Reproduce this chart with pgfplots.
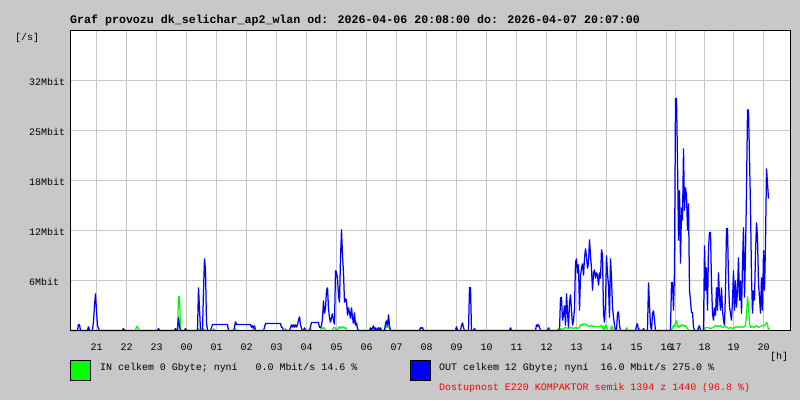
\documentclass[border=0pt]{standalone}
\usepackage{pgfplots}
\pgfplotsset{compat=1.18}
\usepackage{fontspec}
\setmainfont{Liberation Mono}
\setmonofont{Liberation Mono}
\definecolor{bg}{RGB}{200,200,200}
\definecolor{gridc}{RGB}{200,200,200}
\definecolor{inG}{RGB}{0,255,0}
\definecolor{outB}{RGB}{0,0,255}
\definecolor{redT}{RGB}{255,0,0}
\begin{document}
\begin{tikzpicture}[x=1bp,y=1bp]
\fill[bg] (0,0) rectangle (800,400);
\useasboundingbox (0,0) rectangle (800,400);
\begin{axis}[
  at={(70.5bp,69.5bp)}, anchor=south west,
  scale only axis, width=720bp, height=300bp,
  xmin=0, xmax=720, ymin=0, ymax=300,
  axis background/.style={fill=white},
  clip=false,
  xtick={26,56,86,116,146,176,206,236,266,296,326,356,386,416,446,476,506,536,566,596,605,634,663,693},
  xticklabels={21,22,23,00,01,02,03,04,05,06,07,08,09,10,11,12,13,14,15,16,17,18,19,20},
  ytick={50,100,150,200,250},
  yticklabels={6Mbit,12Mbit,18Mbit,25Mbit,32Mbit},
  grid=major,
  major grid style={gridc, line width=1bp},
  major tick length=0pt,
  tick label style={font=\fontsize{10}{12}\selectfont},
  xticklabel style={anchor=base, inner sep=0pt, yshift=-20.2bp},
  yticklabel style={anchor=base west, inner sep=0pt, xshift=-41.5bp, yshift=-4.5bp},
  axis line style={black, line width=1bp},
]
\addplot[draw=inG, line width=1.25bp, line join=bevel] coordinates {
(0,0) (65,0) (66,4) (67,4) (68,0) (107,0) (108,34) (109,34) (110,0) (127,0) (128,2) (129,0) (132,0) (133,2) (134,0)
(142,0) (143,2) (144,0) (164,0) (165,2) (166,0) (182,0) (183,2) (184,0) (214,0) (215,2) (216,0) (239,0) (240,2) (241,0)
(250,0) (251,3) (252,2) (253,3) (254,2) (255,0) (262,0) (263,3) (264,3) (265,2) (266,0) (268,3) (269,4) (270,2) (271,3)
(272,4) (273,3) (274,2) (275,3) (276,0) (314,0) (315,3) (316,5) (317,3) (318,4) (319,2) (320,0)
(487,0) (488,2) (490,2) (491,0) (493,2) (495,3) (498,2) (500,3) (503,2) (505,3) (507,2) (509,3) (510,6) (512,5) (513,7)
(515,6) (517,5) (519,4) (521,5) (523,4) (525,4) (527,4) (529,4) (531,5) (532,4) (533,0) (534,2) (535,6) (536,3) (537,0)
(540,0) (541,5) (542,2) (543,0) (555,0) (556,3) (557,0) (568,0) (569,2) (570,0)
(601,0) (602,3) (603,5) (604,4) (605,8) (606,10) (607,4) (608,3) (609,5) (610,4) (611,6) (612,5) (613,5) (614,4) (615,5)
(616,3) (617,2) (618,0)
(634,0) (635,3) (637,3) (640,2) (643,3) (645,5) (647,4) (650,5) (652,3) (655,4) (658,2) (660,3) (662,2) (664,3) (666,4)
(668,3) (670,4) (672,3) (674,4) (675,5) (676,15) (677,34) (678,25) (679,7) (680,3) (682,4) (684,3) (686,5) (688,3) (690,4)
(692,5) (694,5) (695,6) (696,8) (697,6) (698,0)
};
\addplot[draw=outB, line width=1.25bp, line join=bevel] coordinates {
(0,0) (7,0) (8,6) (9,6) (10,0) (17,0) (18,4) (19,0) (22,0) (23,9) (24,25) (25,37) (26,20) (27,5) (28,2) (29,0)
(52,0) (53,2) (54,0) (87,0) (88,2) (89,0) (104,0) (105,2) (106,0) (107,0) (108,13) (109,4) (110,0) (114,0) (115,2) (116,0)
(127,0) (128,43) (129,22) (130,0) (132,0) (133,40) (134,72) (135,60) (136,8) (137,0)
(140,0) (141,3) (142,6) (157,6) (158,0) (163,0) (164,3) (165,9) (166,6) (180,6) (181,3) (182,5) (183,2) (184,5) (185,0)
(193,0) (194,3) (195,7) (210,7) (211,3) (212,3) (213,0)
(219,0) (220,3) (221,6) (222,3) (223,6) (224,3) (225,6) (226,3) (227,6) (228,10) (229,14) (230,6) (231,2) (232,0) (233,0) (234,3) (235,0)
(239,0) (240,4) (241,8) (248,8) (249,3) (250,3) (251,5) (252,12) (253,30) (254,17) (255,22) (256,40) (257,43) (258,22)
(259,13) (260,8) (261,13) (262,17) (263,10) (264,6) (265,60) (266,58) (267,52) (268,35) (269,28) (270,72) (271,101)
(272,75) (273,58) (274,28) (275,32) (276,30) (277,15) (278,23) (279,18) (280,12) (281,23) (282,13) (283,7) (284,18)
(285,5) (286,8) (287,2) (288,0)
(299,0) (300,3) (301,0) (303,5) (304,0) (305,3) (306,0) (308,3) (309,0) (310,3) (311,0) (314,0) (315,7) (316,10) (317,4)
(318,16) (319,5) (320,0) (349,0) (350,3) (351,2) (352,3) (353,0) (385,0) (386,4) (387,0) (390,0) (391,5) (392,8) (393,3)
(394,0) (398,0) (399,43) (400,43) (401,0) (403,0) (404,2) (405,0) (439,0) (440,3) (441,0) (465,0) (466,6) (467,4) (468,6)
(469,3) (470,0) (477,0) (478,3) (479,0)
(489,0) (490,33) (491,33) (492,10) (493,16) (494,25) (495,5) (496,37) (497,18) (498,3) (499,28) (500,36) (501,20) (502,5)
(503,10) (504,22) (505,68) (506,72) (507,57) (508,66) (509,20) (510,55) (511,62) (512,67) (513,55) (514,72) (515,82)
(516,74) (517,62) (518,68) (519,91) (520,75) (521,62) (522,40) (523,57) (524,61) (525,52) (526,58) (527,55) (528,45)
(529,58) (530,52) (531,81) (532,75) (533,17) (534,8) (535,27) (536,75) (537,57) (538,45) (539,13) (540,72) (541,52)
(542,23) (543,13) (544,5) (545,0)
(546,0) (547,17) (548,19) (549,5) (550,0) (565,0) (566,5) (567,7) (568,0) (572,0) (573,2) (574,0) (577,0) (578,48) (579,25)
(580,5) (581,0) (582,17) (583,20) (584,10) (585,0)
(600,0) (601,48) (602,48) (603,20) (604,60) (605,232) (606,232) (607,170) (608,90) (609,140) (610,67) (611,123) (612,110)
(613,182) (614,120) (615,143) (616,135) (617,100) (618,127) (619,40) (620,30) (621,18) (622,18) (623,3) (624,0)
(627,0) (628,3) (629,5) (630,0)
(633,0) (634,85) (635,40) (636,63) (637,20) (638,83) (639,98) (640,98) (641,47) (642,17) (643,10) (644,23) (645,15) (646,43)
(647,20) (648,58) (649,33) (650,20) (651,43) (652,20) (653,10) (654,5) (655,40) (656,102) (657,102) (658,50) (659,23)
(660,17) (661,10) (662,30) (663,60) (664,20) (665,50) (666,23) (667,40) (668,73) (669,30) (670,50) (671,17) (672,67)
(673,103) (674,33) (675,77) (676,140) (677,221) (678,220) (679,173) (680,123) (681,53) (682,17) (683,40) (684,30) (685,77)
(686,108) (687,93) (688,47) (689,33) (690,17) (691,53) (692,20) (693,80) (694,40) (695,87) (696,162) (697,147) (698,132)
};
\draw[black, line width=1bp] (rel axis cs:0,0) rectangle (rel axis cs:1,1);
\end{axis}
\node[anchor=base west, inner sep=0pt, font=\bfseries\fontsize{11.67}{14}\selectfont] at (70,376.5)
  {Graf provozu dk\_selichar\_ap2\_wlan od: 2026-04-06 20:08:00 do: 2026-04-07 20:07:00};
\node[anchor=base west, inner sep=0pt, font=\fontsize{10}{12}\selectfont] at (15,360) {[/s]};
\node[anchor=base west, inner sep=0pt, font=\fontsize{10}{12}\selectfont] at (770,41) {[h]};
\filldraw[fill=inG, draw=black, line width=1bp] (70.5,19.5) rectangle (90.5,39.5);
\filldraw[fill=outB, draw=black, line width=1bp] (410.5,19.5) rectangle (430.5,39.5);
\node[anchor=base west, inner sep=0pt, font=\fontsize{10}{12}\selectfont] at (100,29.3)
  {IN celkem 0 Gbyte; nyní~~~0.0 Mbit/s 14.6 \%};
\node[anchor=base west, inner sep=0pt, font=\fontsize{10}{12}\selectfont] at (439,29.3)
  {OUT celkem 12 Gbyte; nyní~~16.0 Mbit/s 275.0 \%};
\node[anchor=base west, inner sep=0pt, text=redT, font=\fontsize{10}{12}\selectfont] at (439,9.3)
  {Dostupnost E220 KOMPAKTOR semik 1394 z 1440 (96.8 \%)};
\end{tikzpicture}
\end{document}
